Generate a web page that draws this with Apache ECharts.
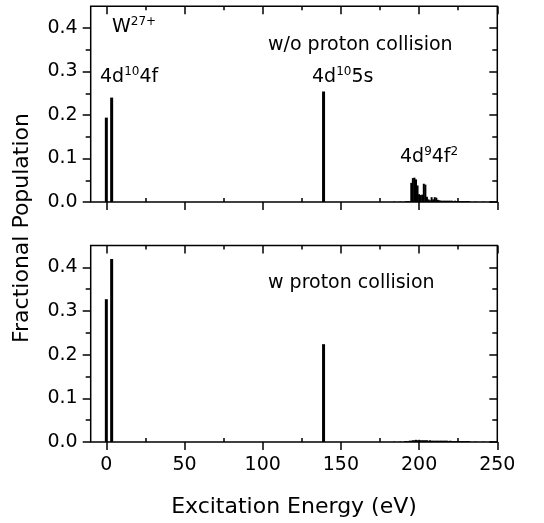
<!DOCTYPE html>
<html>
<head>
<meta charset="utf-8">
<script src="https://cdn.jsdelivr.net/npm/echarts@6/dist/echarts.min.js"></script>
<style>
  html, body { margin: 0; padding: 0; background: #fff; }
  #main { width: 544px; height: 523px; }
</style>
</head>
<body>
<div id="main"></div>
<script>
// ground / excited levels (eV) and their fractional populations
var mainEnergy = [0, 3.4, 138.9]
var popWithout = [0.194, 0.240, 0.254]
var popWith = [0.327, 0.419, 0.224]

// 4d9 4f2 cluster
var clusterEnergy = [184, 188, 191, 192, 193, 194, 195, 196, 197, 198, 199, 200, 201, 202, 203, 204, 205, 206, 207, 208,
  209, 210, 211, 212, 213, 214, 215, 216, 217, 218, 219, 220, 221, 222, 223, 224, 225, 226, 227, 228, 229, 230, 231, 232,
  236, 241, 246]
var clusterWithout = [0.001, 0.001, 0.001, 0.002, 0.002, 0.002, 0.044, 0.055, 0.056, 0.052, 0.038, 0.018, 0.016, 0.017, 0.042, 0.040, 0.012, 0.006, 0.004, 0.011,
  0.006, 0.011, 0.010, 0.005, 0.004, 0.003, 0.003, 0.003, 0.003, 0.003, 0.003, 0.003, 0.003, 0.002, 0.003, 0.002, 0.002, 0.002, 0.002, 0.002, 0.002, 0.002, 0.002, 0.002,
  0.001, 0.001, 0.001]
var clusterWith = [0.001, 0.001, 0.002, 0.002, 0.002, 0.003, 0.003, 0.004, 0.004, 0.005, 0.004, 0.005, 0.004, 0.004, 0.004, 0.004, 0.004, 0.003, 0.004, 0.003,
  0.003, 0.003, 0.003, 0.003, 0.003, 0.003, 0.003, 0.003, 0.003, 0.003, 0.002, 0.003, 0.002, 0.002, 0.002, 0.002, 0.002, 0.002, 0.002, 0.002, 0.002, 0.002, 0.002, 0.002,
  0.001, 0.001, 0.001]

var xMajor = [0, 50, 100, 150, 200, 250]
var xMinor = [25, 75, 125, 175, 225]
var yMajor = [0, 0.1, 0.2, 0.3, 0.4]
var yMinor = [0.05, 0.15, 0.25, 0.35]

var FONT = 'DejaVu Sans'

function pairs(xs, ys) {
  var out = []
  for (var i = 0; i < xs.length; i++) out.push([xs[i], ys[i]])
  return out
}

function xAx(g, pos, ticks, len, inside, labels) {
  return {
    gridIndex: g, type: 'value', position: pos, min: -10, max: 250,
    axisLine: { show: false, onZero: false }, splitLine: { show: false },
    axisTick: { show: true, customValues: ticks, length: len, inside: inside, lineStyle: { color: '#000', width: 1.5 } },
    axisLabel: { show: labels, customValues: xMajor, margin: 14, color: '#000', fontSize: 19, fontFamily: FONT }
  }
}

function yAx(g, pos, ticks, len, inside, labels) {
  return {
    gridIndex: g, type: 'value', position: pos, min: 0, max: 0.45,
    axisLine: { show: false, onZero: false }, splitLine: { show: false },
    axisTick: { show: true, customValues: ticks, length: len, inside: inside, lineStyle: { color: '#000', width: 1.5 } },
    axisLabel: {
      show: labels, customValues: yMajor, margin: 13, color: '#000', fontSize: 19, fontFamily: FONT,
      formatter: function (v) { return v.toFixed(1) }
    }
  }
}

var xAxes = [], yAxes = []
for (var g = 0; g < 2; g++) {
  xAxes.push(xAx(g, 'bottom', xMajor, 8, false, g === 1))
  xAxes.push(xAx(g, 'bottom', xMinor, 4, true, false))
  xAxes.push(xAx(g, 'top', xMajor, 8, true, false))
  xAxes.push(xAx(g, 'top', xMinor, 4, true, false))
  yAxes.push(yAx(g, 'left', yMajor, 8, false, true))
  yAxes.push(yAx(g, 'left', yMinor, 5, false, false))
  yAxes.push(yAx(g, 'right', yMajor, 8, true, false))
  yAxes.push(yAx(g, 'right', yMinor, 5, true, false))
}

function bars(g, xs, ys, w, minor) {
  return {
    type: 'bar', xAxisIndex: g * 4 + (minor ? 1 : 0), yAxisIndex: g * 4,
    barWidth: w, itemStyle: { color: '#000' }, silent: true,
    data: pairs(xs, ys)
  }
}

var supText = { fontSize: 12, fontFamily: FONT, verticalAlign: 'top', lineHeight: 22, fill: '#000' }

function label(x, y, text, size) {
  return {
    type: 'text', left: x, top: y,
    style: {
      text: text, fontSize: size || 19, fontFamily: FONT, fill: '#000', lineHeight: 22,
      rich: {
        s: supText,
        n: { fontSize: 19, fontFamily: FONT, lineHeight: 22, fill: '#000' }
      }
    }
  }
}

var myChart = echarts.init(document.getElementById('main'))
myChart.setOption({
  animation: false,
  backgroundColor: '#fff',
  grid: [
    { left: 90.7, right: 46.7, top: 6.25, height: 195.75, show: true, borderColor: '#000', borderWidth: 1.5 },
    { left: 90.7, right: 46.7, top: 245.5, height: 196.5, show: true, borderColor: '#000', borderWidth: 1.5 }
  ],
  xAxis: xAxes,
  yAxis: yAxes,
  series: [
    bars(0, mainEnergy, popWithout, 3, false),
    bars(0, clusterEnergy, clusterWithout, 2, true),
    bars(1, mainEnergy, popWith, 3, false),
    bars(1, clusterEnergy, clusterWith, 2, true)
  ],
  graphic: [
    label(112, 16, '{n|W}{s|27+}'),
    label(268, 34, 'w/o proton collision'),
    label(100, 66, '{n|4d}{s|10}{n|4f}'),
    label(312, 66, '{n|4d}{s|10}{n|5s}'),
    label(400, 146, '{n|4d}{s|9}{n|4f}{s|2}'),
    label(268, 272, 'w proton collision'),
    {
      type: 'text', x: 294, y: 507,
      style: { text: 'Excitation Energy (eV)', fontSize: 22, fontFamily: FONT, fill: '#000', align: 'center', verticalAlign: 'middle' }
    },
    {
      type: 'text', x: 22, y: 228, rotation: Math.PI / 2,
      style: { text: 'Fractional Population', fontSize: 22, fontFamily: FONT, fill: '#000', align: 'center', verticalAlign: 'middle' }
    }
  ]
})
</script>
</body>
</html>
